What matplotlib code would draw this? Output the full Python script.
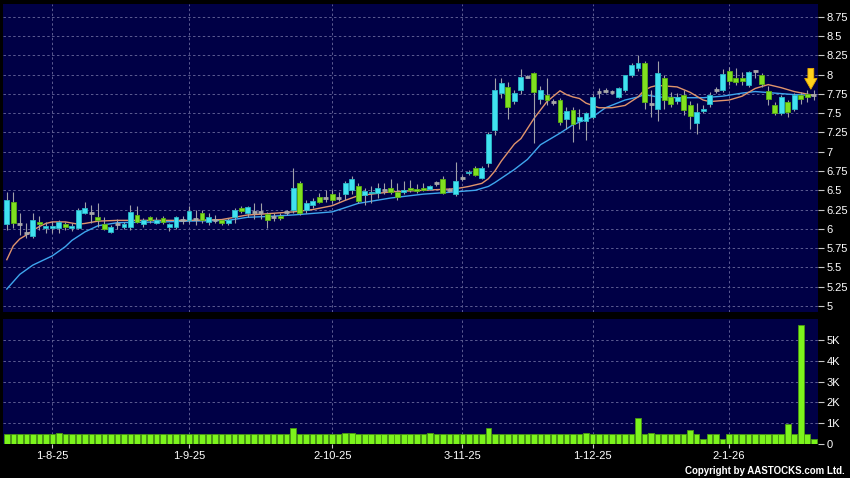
import numpy as np
import matplotlib
matplotlib.use('Agg')
import matplotlib.pyplot as plt
from matplotlib.patches import Polygon

# ---------------- data ----------------
opens = [6.06, 6.35, 6.06, 5.95, 5.91, 6.09, 6.01, 6.01, 6.01, 6.06,
         6.01, 6.01, 6.21, 6.20, 6.15, 6.06, 5.96, 6.06, 6.03, 6.03,
         6.18, 6.06, 6.15, 6.08, 6.14, 6.02, 6.02, 6.11, 6.11, 6.13,
         6.20, 6.09, 6.12, 6.11, 6.08, 6.15, 6.27, 6.20, 6.22, 6.22,
         6.19, 6.15, 6.17, 6.22, 6.25, 6.60, 6.25, 6.31, 6.41, 6.40,
         6.45, 6.40, 6.45, 6.50, 6.55, 6.44, 6.46, 6.46, 6.51, 6.53,
         6.48, 6.48, 6.53, 6.52, 6.53, 6.52, 6.60, 6.65, 6.51, 6.45,
         6.66, 6.72, 6.79, 6.66, 6.85, 7.28, 7.76, 7.84, 7.66, 7.80,
         7.97, 8.02, 7.68, 7.74, 7.65, 7.67, 7.42, 7.54, 7.40, 7.40,
         7.45, 7.77, 7.79, 7.77, 7.71, 7.80, 7.99, 8.09, 8.15, 7.62,
         7.55, 7.95, 7.71, 7.66, 7.74, 7.60, 7.37, 7.53, 7.62, 7.80,
         7.80, 8.05, 7.95, 7.95, 7.86, 8.05, 8.00, 7.79, 7.60, 7.50,
         7.65, 7.55, 7.74, 7.75, 7.74]
highs = [6.48, 6.48, 6.20, 6.07, 6.20, 6.17, 6.09, 6.10, 6.12, 6.09,
         6.08, 6.27, 6.35, 6.31, 6.34, 6.16, 6.05, 6.13, 6.09, 6.31,
         6.30, 6.14, 6.17, 6.15, 6.17, 6.08, 6.17, 6.17, 6.29, 6.25,
         6.25, 6.20, 6.18, 6.13, 6.14, 6.27, 6.30, 6.30, 6.33, 6.33,
         6.22, 6.20, 6.20, 6.25, 6.79, 6.62, 6.37, 6.40, 6.47, 6.50,
         6.50, 6.48, 6.62, 6.68, 6.60, 6.53, 6.55, 6.60, 6.60, 6.65,
         6.60, 6.62, 6.63, 6.58, 6.60, 6.57, 6.62, 6.68, 6.53, 6.87,
         6.70, 6.76, 6.82, 6.82, 7.25, 7.95, 7.95, 7.91, 7.80, 8.07,
         8.00, 8.03, 7.85, 7.95, 7.68, 7.70, 7.58, 7.58, 7.55, 7.52,
         7.75, 7.82, 7.82, 7.80, 7.84, 8.00, 8.15, 8.25, 8.17, 7.80,
         8.18, 8.00, 7.78, 7.76, 7.80, 7.66, 7.63, 7.60, 7.78, 7.84,
         8.07, 8.10, 8.08, 8.03, 8.05, 8.06, 8.02, 7.85, 7.65, 7.73,
         7.67, 7.76, 7.78, 7.80, 7.80]
lows = [5.98, 6.01, 5.92, 5.88, 5.88, 5.98, 5.94, 5.95, 5.94, 5.98,
        5.97, 6.00, 6.19, 6.08, 6.02, 5.98, 5.94, 6.00, 6.00, 5.98,
        6.07, 6.03, 6.08, 6.06, 6.06, 5.97, 6.00, 6.06, 6.08, 6.05,
        6.08, 6.05, 6.08, 6.05, 6.05, 6.08, 6.20, 6.15, 6.13, 6.13,
        6.01, 6.10, 6.12, 6.18, 6.20, 6.18, 6.20, 6.27, 6.33, 6.35,
        6.33, 6.36, 6.38, 6.45, 6.33, 6.31, 6.33, 6.40, 6.45, 6.45,
        6.38, 6.45, 6.48, 6.47, 6.49, 6.50, 6.55, 6.45, 6.48, 6.43,
        6.62, 6.70, 6.68, 6.64, 6.80, 7.22, 7.70, 7.43, 7.62, 7.75,
        7.95, 7.11, 7.62, 7.60, 7.60, 7.35, 7.30, 7.12, 7.30, 7.15,
        7.42, 7.70, 7.76, 7.75, 7.69, 7.78, 7.97, 8.05, 7.55, 7.45,
        7.40, 7.55, 7.58, 7.62, 7.48, 7.30, 7.23, 7.50, 7.58, 7.76,
        7.78, 7.86, 7.87, 7.86, 7.84, 7.95, 7.84, 7.60, 7.48, 7.48,
        7.45, 7.53, 7.62, 7.65, 7.67]
closes = [6.38, 6.08, 6.06, 5.95, 6.12, 6.06, 6.04, 6.04, 6.09, 6.02,
          6.04, 6.24, 6.27, 6.20, 6.11, 6.00, 6.02, 6.06, 6.06, 6.22,
          6.09, 6.11, 6.11, 6.12, 6.09, 6.06, 6.15, 6.11, 6.23, 6.13,
          6.12, 6.16, 6.12, 6.08, 6.12, 6.25, 6.23, 6.28, 6.22, 6.22,
          6.11, 6.15, 6.14, 6.22, 6.53, 6.21, 6.34, 6.36, 6.35, 6.40,
          6.38, 6.40, 6.60, 6.65, 6.36, 6.49, 6.48, 6.53, 6.51, 6.48,
          6.41, 6.51, 6.50, 6.49, 6.51, 6.55, 6.60, 6.47, 6.51, 6.62,
          6.66, 6.74, 6.70, 6.79, 7.23, 7.80, 7.89, 7.58, 7.76, 7.97,
          7.97, 7.77, 7.80, 7.67, 7.65, 7.39, 7.53, 7.36, 7.45, 7.50,
          7.71, 7.77, 7.79, 7.77, 7.82, 7.99, 8.13, 8.15, 7.65, 7.62,
          8.02, 7.67, 7.62, 7.71, 7.54, 7.46, 7.52, 7.56, 7.74, 7.80,
          8.01, 7.92, 7.91, 7.92, 8.03, 8.05, 7.88, 7.68, 7.50, 7.71,
          7.52, 7.74, 7.68, 7.71, 7.74]
volume_k = [0.47, 0.47, 0.47, 0.47, 0.47, 0.50, 0.47, 0.47, 0.52, 0.47,
            0.47, 0.47, 0.47, 0.47, 0.47, 0.47, 0.47, 0.47, 0.47, 0.47,
            0.47, 0.47, 0.47, 0.47, 0.47, 0.47, 0.47, 0.47, 0.47, 0.47,
            0.47, 0.47, 0.47, 0.47, 0.47, 0.47, 0.47, 0.47, 0.47, 0.47,
            0.47, 0.47, 0.47, 0.47, 0.78, 0.47, 0.47, 0.47, 0.47, 0.47,
            0.47, 0.47, 0.52, 0.52, 0.47, 0.47, 0.47, 0.47, 0.47, 0.47,
            0.47, 0.47, 0.47, 0.47, 0.47, 0.52, 0.47, 0.47, 0.47, 0.47,
            0.47, 0.47, 0.47, 0.47, 0.78, 0.50, 0.47, 0.47, 0.47, 0.47,
            0.47, 0.47, 0.47, 0.47, 0.47, 0.47, 0.47, 0.47, 0.47, 0.52,
            0.47, 0.47, 0.47, 0.47, 0.47, 0.47, 0.47, 1.27, 0.47, 0.52,
            0.47, 0.47, 0.47, 0.47, 0.47, 0.67, 0.47, 0.24, 0.47, 0.47,
            0.24, 0.47, 0.47, 0.47, 0.47, 0.47, 0.47, 0.47, 0.47, 0.47,
            0.95, 0.47, 5.72, 0.47, 0.22]

ma_fast_idx = [0, 1, 2, 3, 4, 5, 6, 7, 9, 11, 12, 14, 17, 23, 28, 33, 37, 39,
               44, 47, 50, 52, 54, 59, 64, 69, 71, 73, 74, 75, 76, 78, 79, 81,
               83, 85, 86, 87, 88, 89, 90, 91, 93, 95, 97, 98, 99, 100, 103,
               105, 107, 108, 111, 113, 115, 117, 119, 121, 124]
ma_fast_val = [5.60, 5.78, 5.87, 5.92, 5.98, 6.03, 6.07, 6.09, 6.09, 6.06,
               6.07, 6.10, 6.11, 6.11, 6.11, 6.12, 6.18, 6.19, 6.22, 6.25,
               6.30, 6.37, 6.43, 6.48, 6.50, 6.52, 6.55, 6.59, 6.65, 6.75,
               6.88, 7.10, 7.17, 7.43, 7.65, 7.79, 7.74, 7.71, 7.69, 7.63,
               7.60, 7.57, 7.57, 7.60, 7.71, 7.80, 7.84, 7.86, 7.84, 7.77,
               7.67, 7.65, 7.67, 7.72, 7.82, 7.87, 7.83, 7.78, 7.73]
ma_slow_idx = [0, 2, 4, 7, 9, 10, 12, 14, 17, 24, 28, 34, 37, 40, 44, 47, 50,
               54, 59, 64, 69, 72, 74, 75, 78, 80, 82, 85, 87, 90, 92, 95, 97,
               98, 100, 103, 107, 110, 113, 115, 118, 121, 124]
ma_slow_val = [5.22, 5.41, 5.53, 5.65, 5.77, 5.85, 5.96, 6.04, 6.08, 6.09,
               6.10, 6.11, 6.15, 6.16, 6.18, 6.20, 6.22, 6.33, 6.40, 6.45,
               6.48, 6.50, 6.55, 6.60, 6.77, 6.90, 7.09, 7.24, 7.35, 7.45,
               7.57, 7.67, 7.71, 7.74, 7.71, 7.70, 7.70, 7.72, 7.76, 7.78,
               7.76, 7.74, 7.73]

x_tick_idx = [7, 28, 50, 70, 90, 111]
x_tick_labels = ['1-8-25', '1-9-25', '2-10-25', '3-11-25', '1-12-25', '2-1-26']
price_ticks = [5, 5.25, 5.5, 5.75, 6, 6.25, 6.5, 6.75, 7, 7.25, 7.5, 7.75, 8, 8.25, 8.5, 8.75]
price_tick_labels = ['5', '5.25', '5.5', '5.75', '6', '6.25', '6.5', '6.75', '7',
                     '7.25', '7.5', '7.75', '8', '8.25', '8.5', '8.75']
vol_ticks = [0, 1, 2, 3, 4, 5]
vol_tick_labels = ['0', '1K', '2K', '3K', '4K', '5K']

# ---------------- style ----------------
plt.rcParams['font.family'] = ['Liberation Sans', 'DejaVu Sans']
BG = '#000046'
UP = '#40E2F0'
UP_EDGE = '#2AB8C8'
DN = '#80E020'
DN_EDGE = '#5AB010'
DOJI = '#A8A8A8'
WICK = '#A0A0A8'
GRID = '#5C5C92'
VOL = '#7CF41C'
VOL_EDGE = '#4A9A12'

o = np.array(opens); h = np.array(highs); l = np.array(lows); c = np.array(closes)
n = len(o)
x = np.arange(n)

fig = plt.figure(figsize=(8.5, 4.78), dpi=100, facecolor='black')
ax = fig.add_axes([3/850, 1-312/478, 815/850, 308/478])
axv = fig.add_axes([3/850, 1-444/478, 815/850, 125/478], sharex=ax)

for a in (ax, axv):
    a.set_facecolor(BG)
    for s in a.spines.values():
        s.set_visible(False)
    a.set_axisbelow(True)
    a.grid(True, color=GRID, linestyle=(0, (2.5, 2.5)), linewidth=0.7)
    a.yaxis.tick_right()
    a.tick_params(axis='y', colors='#C8C8C8', labelcolor='white', length=4,
                  width=0.8, pad=2, labelsize=8)

# price panel
ax.set_xlim(-0.584, 124.65)
ax.set_ylim(4.922, 8.915)
ax.set_yticks(price_ticks)
ax.set_yticklabels(price_tick_labels)
ax.set_xticks(x_tick_idx)
ax.tick_params(axis='x', length=0, labelbottom=False)

# moving averages
ax.plot(ma_slow_idx, ma_slow_val, color='#3FA6EE', lw=1.0, zorder=2)
ax.plot(ma_fast_idx, ma_fast_val, color='#E0946C', lw=1.0, zorder=2)

# wicks
ax.vlines(x, l, h, colors=WICK, lw=0.8, zorder=3)
up = c > o
dn = c < o
eq = c == o
bw = 0.75
ax.bar(x[up], (c - o)[up], bottom=o[up], width=bw, color=UP, edgecolor=UP_EDGE,
       linewidth=0.6, zorder=4)
ax.bar(x[dn], (o - c)[dn], bottom=c[dn], width=bw, color=DN, edgecolor=DN_EDGE,
       linewidth=0.6, zorder=4)
ax.hlines(c[eq], x[eq] - bw / 2, x[eq] + bw / 2, colors=DOJI, lw=2.0, zorder=4)

# yellow arrow pointing at the last candle
ax_x = x[-1] - 0.45
tip = h[-1] + 0.01
arrow = Polygon([(ax_x - 0.45, tip + 0.27), (ax_x + 0.45, tip + 0.27),
                 (ax_x + 0.45, tip + 0.14), (ax_x + 0.95, tip + 0.14),
                 (ax_x, tip), (ax_x - 0.95, tip + 0.14), (ax_x - 0.45, tip + 0.14)],
                closed=True, facecolor='#FFD21C', edgecolor='#E8A800', lw=0.6, zorder=6)
ax.add_patch(arrow)

# volume panel
axv.bar(x, volume_k, width=0.86, color=VOL, edgecolor=VOL_EDGE, linewidth=0.6, zorder=3)
axv.set_ylim(0, 6.01)
axv.set_yticks(vol_ticks)
axv.set_yticklabels(vol_tick_labels)
axv.set_xticks(x_tick_idx)
axv.set_xticklabels(x_tick_labels)
axv.tick_params(axis='x', colors='#C8C8C8', labelcolor='white', length=3,
                width=0.8, pad=2, labelsize=8)

fig.text(0.994, 0.0146, 'Copyright by AASTOCKS.com Ltd.', ha='right', va='center',
         color='white', fontsize=7, fontweight='bold')

fig.savefig('out.png', dpi=100, facecolor='black')
